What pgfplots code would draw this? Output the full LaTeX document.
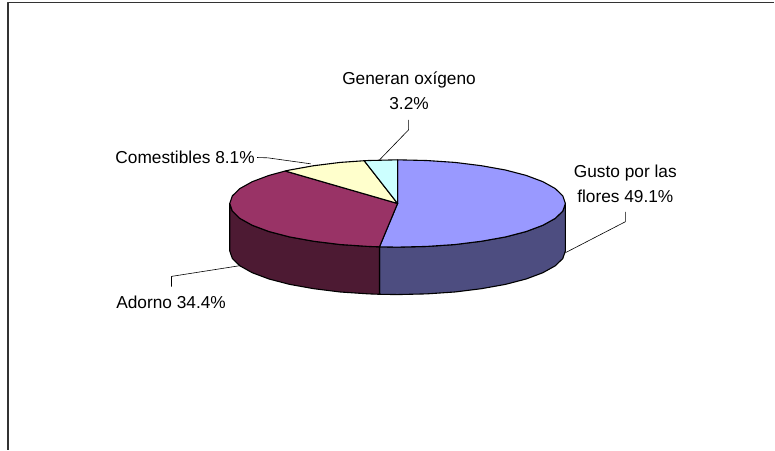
\documentclass[border=0pt]{standalone}
\usepackage{pgfplots}
\pgfplotsset{compat=1.18}
\usepackage{fontspec}
\setmainfont{Liberation Sans}
\definecolor{blueT}{HTML}{9999FF}
\definecolor{blueS}{HTML}{4D4D80}
\definecolor{maroonT}{HTML}{993366}
\definecolor{maroonS}{HTML}{4D1A33}
\definecolor{yellowT}{HTML}{FFFFCC}
\definecolor{cyanT}{HTML}{CCFFFF}
\definecolor{frameC}{HTML}{333333}
\begin{document}
\begin{tikzpicture}
\begin{axis}[
  hide axis, scale only axis, width=775bp, height=450bp,
  xmin=0, xmax=775, ymin=0, ymax=450, y dir=reverse, clip=false,
  every axis plot/.append style={line join=round},
]
\path (axis cs:0,0) rectangle (axis cs:775,450);
% frame
\addplot[frameC, line width=1.7pt, no marks] coordinates {(7.7,450) (7.7,2.5) (775,2.5)};
% sides
\addplot[fill=blueS, draw=black, line width=1.1pt, no marks] coordinates {
(566,203.7)(563.4,211.3)(555.9,218.6)(543.5,225.5)(526.7,231.8)(506,237.2)(482,241.5)(455.5,244.8)(427.2,246.7)(398,247.4)(379.9,247.1)
(379.9,294.6)(398,294.9)(427.2,294.2)(455.5,292.3)(482,289)(506,284.7)(526.7,279.3)(543.5,273)(555.9,266.1)(563.4,258.8)(566,251.2)} -- cycle;
\addplot[fill=maroonS, draw=black, line width=1.1pt, no marks] coordinates {
(379.9,247.1)(368.8,246.7)(340.5,244.8)(314,241.5)(290,237.2)(269.3,231.8)(252.5,225.5)(240.1,218.6)(232.6,211.3)(230,203.7)
(230,251.2)(232.6,258.8)(240.1,266.1)(252.5,273)(269.3,279.3)(290,284.7)(314,289)(340.5,292.3)(368.8,294.2)(379.9,294.6)} -- cycle;
% tops
\addplot[fill=blueT, draw=black, line width=1.1pt, no marks] coordinates {
(398,203.7)(398,160)(427.2,160.7)(455.5,162.6)(482,165.9)(506,170.2)(526.7,175.6)(543.5,181.9)(555.9,188.8)(563.4,196.1)(566,203.7)(563.4,211.3)(555.9,218.6)(543.5,225.5)(526.7,231.8)(506,237.2)(482,241.5)(455.5,244.8)(427.2,246.7)(398,247.4)(379.9,247.1)} -- cycle;
\addplot[fill=maroonT, draw=black, line width=1.1pt, no marks] coordinates {
(398,203.7)(379.9,247.1)(368.8,246.7)(340.5,244.8)(314,241.5)(290,237.2)(269.3,231.8)(252.5,225.5)(240.1,218.6)(232.6,211.3)(230,203.7)(232.6,196.1)(240.1,188.8)(252.5,181.9)(269.3,175.6)(285.6,171.2)} -- cycle;
\addplot[fill=yellowT, draw=black, line width=1.1pt, no marks] coordinates {
(398,203.7)(285.6,171.2)(290,170.2)(314,165.9)(340.5,162.6)(364.6,160.9)} -- cycle;
\addplot[fill=cyanT, draw=black, line width=1.1pt, no marks] coordinates {
(398,203.7)(364.6,160.9)(368.8,160.7)(398,160)} -- cycle;
% leaders
\addplot[black, line width=0.6pt, no marks] coordinates {(409,120)(409,130)(380,160)};
\addplot[black, line width=0.6pt, no marks] coordinates {(257.5,157.7)(268,158)(311,164)};
\addplot[black, line width=0.6pt, no marks] coordinates {(626,212)(626,222)(566,253)};
\addplot[black, line width=0.6pt, no marks] coordinates {(171.7,287)(171.7,276.7)(240,266)};
% labels
\node[font=\fontsize{17.3bp}{24.5bp}\selectfont, align=center, inner sep=0pt, anchor=center] at (axis cs:409.5,90.8) {Generan oxígeno\\3.2\%};
\node[font=\fontsize{17.3bp}{24.5bp}\selectfont, inner sep=0pt, anchor=center] at (axis cs:185.3,157.6) {Comestibles 8.1\%};
\node[font=\fontsize{17.3bp}{24.5bp}\selectfont, align=center, inner sep=0pt, anchor=center] at (axis cs:626,183.8) {Gusto por las\\flores 49.1\%};
\node[font=\fontsize{17.3bp}{24.5bp}\selectfont, inner sep=0pt, anchor=center] at (axis cs:171.3,302.3) {Adorno 34.4\%};
\end{axis}
\end{tikzpicture}
\end{document}
